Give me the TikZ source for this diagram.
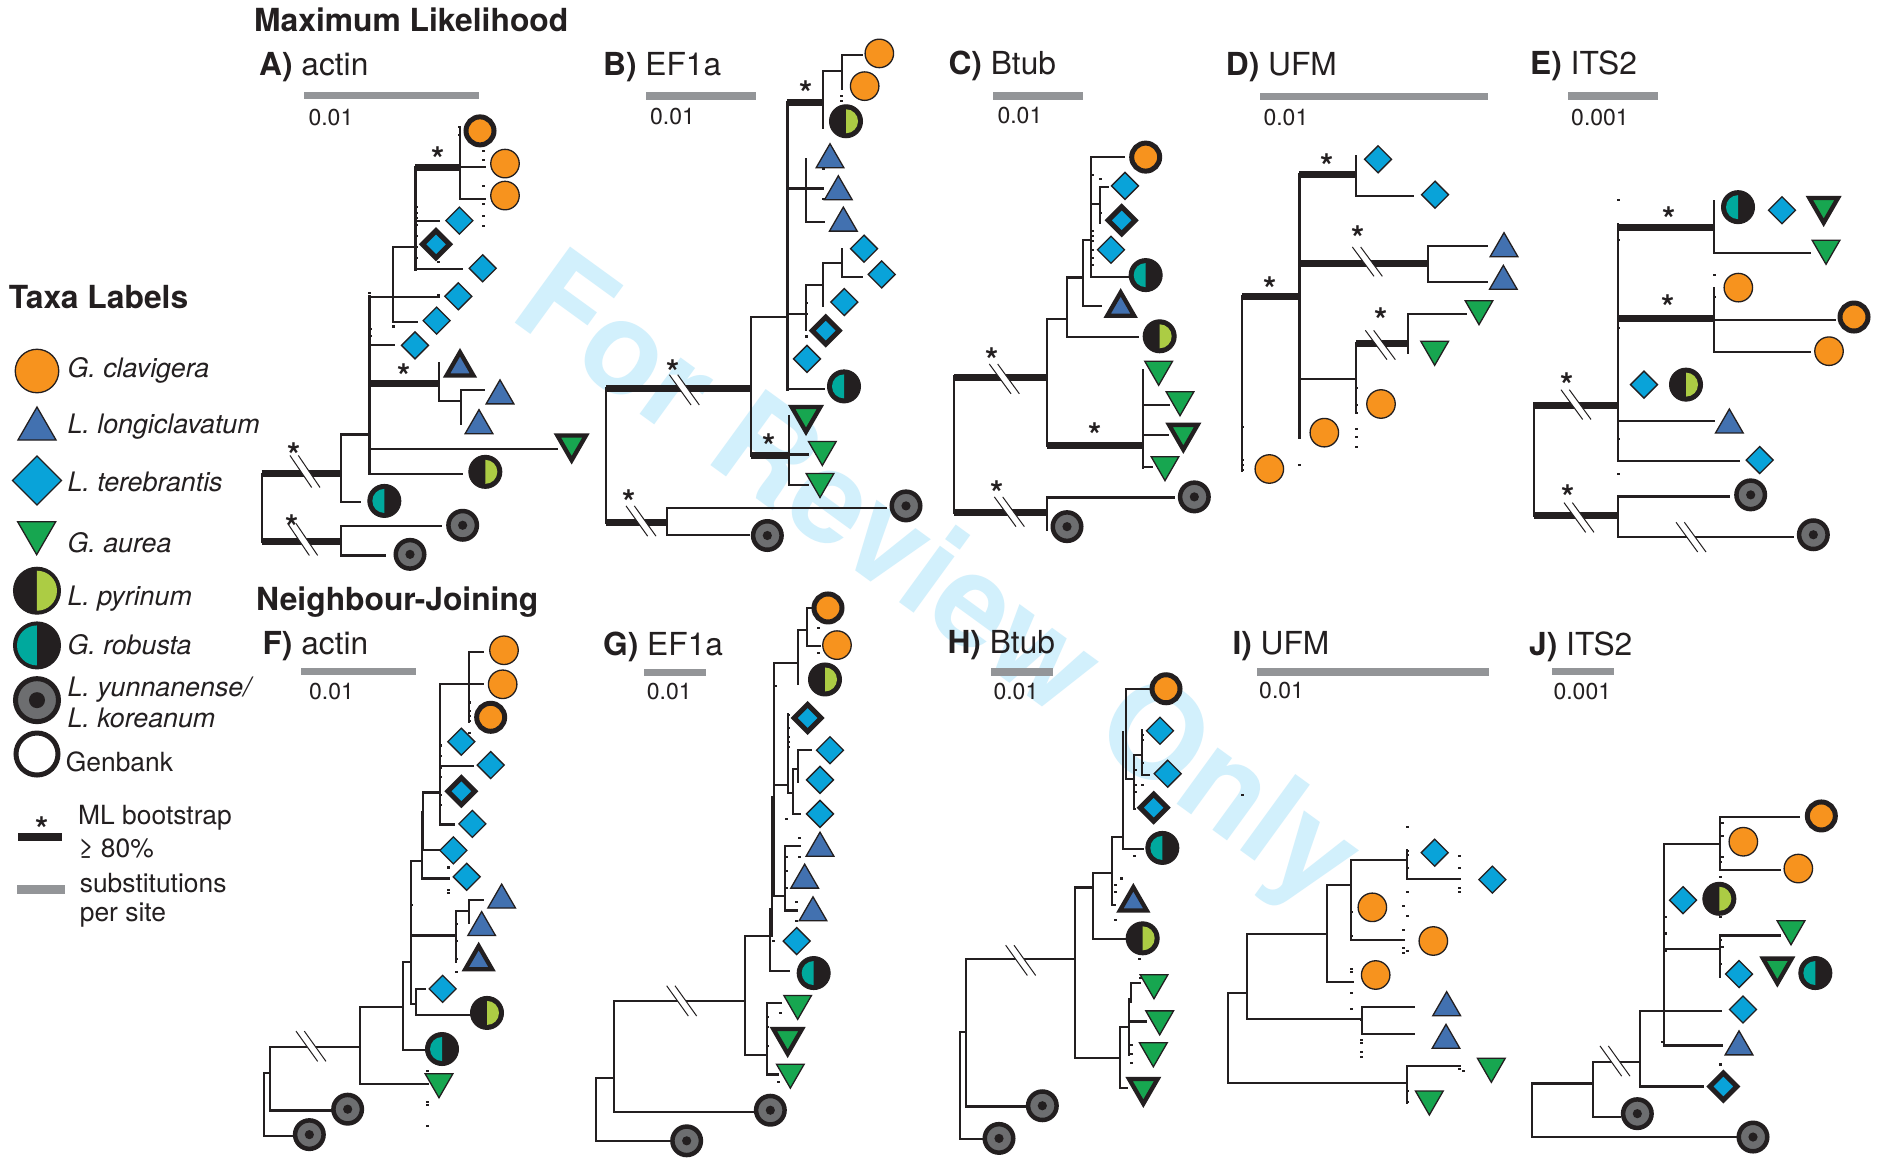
\documentclass[tikz,border=0pt]{standalone}
\usepackage{fontspec}
\setmainfont{TeX Gyre Heros}
\usetikzlibrary{shapes.geometric}
\definecolor{ink}{HTML}{231F20}
\definecolor{cor}{HTML}{F7931E}
\definecolor{cbl}{HTML}{4271B0}
\definecolor{ccy}{HTML}{09A3D9}
\definecolor{cgr}{HTML}{17A650}
\definecolor{cli}{HTML}{ACCC44}
\definecolor{cte}{HTML}{00A99D}
\definecolor{cgy}{HTML}{6D6E70}
\definecolor{cbar}{HTML}{939598}
\definecolor{cwm}{HTML}{D2F0FC}
\newcount\nodenum
\newcommand{\starmk}[2]{\global\advance\nodenum by 1 \node[starmark] (star\the\nodenum) at (#1,#2) {*};}
\newcommand{\slashmk}[2]{\fill[white] (#1-45,#2-44) -- (#1-20,#2-44) -- (#1+45,#2+44) -- (#1+20,#2+44) -- cycle;
  \draw[slashline] (#1-45,#2-44) -- (#1+20,#2+44) (#1-20,#2-44) -- (#1+45,#2+44);}
\newcommand{\ticks}[1]{\foreach \a/\b in {#1} {\fill[ink] (\a-4.5,\b-3) rectangle (\a+4.5,\b+3);}}
\newcommand{\ptitle}[5]{\node[ttl] (t#1) at (#2,#3) {\textbf{#1)} #4};}
\newcommand{\pscale}[6]{\coordinate (sl#1) at (#2,#4); \coordinate (sr#1) at (#3,#4);
  \draw[sbar] (sl#1) -- (sr#1);
  \node[sval] (sv#1) at (#5,#6) {\ifx#1E0.001\else\ifx#1J0.001\else0.01\fi\fi};}
\tikzset{
  br/.style={draw=ink,line width=2.2pt,line cap=rect},
  brm/.style={draw=ink,line width=3pt,line cap=rect},
  bs/.style={draw=ink,line width=7pt,line cap=butt},
  slashline/.style={draw=ink,line width=1pt},
  sbar/.style={draw=cbar,line width=7.5pt},
  starmark/.style={font=\bfseries\fontsize{34}{34}\selectfont,text=ink,inner sep=0pt,anchor=base,yshift=-20pt},
  ttl/.style={font=\fontsize{31.7}{34}\selectfont,text=ink,inner sep=0pt,anchor=base west,xshift=-1pt,yshift=-1pt},
  head/.style={font=\bfseries\fontsize{31.8}{34}\selectfont,text=ink,inner sep=0pt,anchor=base west},
  sval/.style={font=\fontsize{23}{26}\selectfont,text=ink,inner sep=0pt,anchor=base west},
  leg/.style={font=\fontsize{26.4}{30}\selectfont,text=ink,inner sep=0pt,anchor=base west,xshift=-1pt,yshift=-1pt},
  legi/.style={font=\itshape\fontsize{26.8}{30}\selectfont,text=ink,inner sep=0pt,anchor=base west,xshift=-1pt,yshift=-1pt},
  sy/.style={draw=ink,inner sep=0pt,outer sep=0pt},
  oc/.style={sy,circle,fill=cor,line width=1.3pt,minimum size=28.5pt},
  ocb/.style={sy,circle,fill=cor,line width=5pt,minimum size=28pt},
  dia/.style={sy,diamond,fill=ccy,line width=1.3pt,minimum size=27pt},
  diab/.style={sy,diamond,fill=ccy,line width=5pt,minimum size=27pt},
  utri/.style={sy,regular polygon,regular polygon sides=3,fill=cbl,line width=1.3pt,minimum size=32pt,anchor=side 2},
  utrib/.style={sy,regular polygon,regular polygon sides=3,fill=cbl,line width=4.3pt,minimum size=31pt,anchor=side 2},
  dtri/.style={sy,regular polygon,regular polygon sides=3,shape border rotate=180,fill=cgr,line width=1.3pt,minimum size=32pt,anchor=side 2},
  dtrib/.style={sy,regular polygon,regular polygon sides=3,shape border rotate=180,fill=cgr,line width=4.3pt,minimum size=33pt,anchor=side 2},
  pyr/.style={sy,circle,fill=ink,line width=1pt,minimum size=33pt,
    path picture={\fill[cli] (path picture bounding box.center) ++(0pt,#1) arc[start angle=90,end angle=-90,radius=#1] -- cycle;}},
  pyr/.default=12pt,
  rob/.style={sy,circle,fill=ink,line width=1pt,minimum size=33pt,
    path picture={\fill[cte] (path picture bounding box.center) ++(0pt,#1) arc[start angle=90,end angle=270,radius=#1] -- cycle;}},
  rob/.default=12pt,
  yun/.style={sy,circle,fill=cgy,line width=4.5pt,minimum size=28.5pt,
    path picture={\fill[ink] (path picture bounding box.center) circle[radius=#1];}},
  yun/.default=4.6pt,
  panel/.style n args={3}{shift={(#1pt,-#2pt)},x=0.33333pt,y=-#3pt},
}
\begin{document}
\begin{tikzpicture}
\path[use as bounding box,fill=white] (0pt,0pt) rectangle (1881pt,-1159pt);
\node[text=cwm,font=\bfseries\fontsize{129}{140}\selectfont,rotate=-36,inner sep=0pt] (wm) at (934pt,-586pt) {For Review Only};
\node[head] (hml) at (254pt,-31pt) {Maximum Likelihood};
\node[head,font=\bfseries\fontsize{31.8}{34}\selectfont] (hnj) at (256pt,-610pt) {Neighbour-Joining};

% ---------- legend
\begin{scope}[panel={0}{270}{0.42088}]
\node[head,font=\bfseries\fontsize{31.8}{34}\selectfont] (hta) at (26,92) {Taxa Labels};
\node[oc,minimum size=43.5pt] (l1) at (111,240) {};
\node[utri,minimum size=44pt] (l2) at (111,404) {};
\node[dia,minimum size=49pt] (l3) at (111,500) {};
\node[dtri,minimum size=44pt] (l4) at (110,598) {};
\node[pyr=20pt,minimum size=47pt] (l5) at (111,762) {};
\node[rob=20pt,minimum size=47pt] (l6) at (111,892) {};
\node[yun=8pt,minimum size=43pt,line width=5pt] (l7) at (111,1022) {};
\node[sy,circle,fill=white,line width=5pt,minimum size=42pt] (l8) at (111,1150) {};
\node[legi] (lt1) at (205,252) {G. clavigera};
\node[legi] (lt2) at (205,386) {L. longiclavatum};
\node[legi] (lt3) at (205,523) {L. terebrantis};
\node[legi] (lt4) at (205,668) {G. aurea};
\node[legi] (lt5) at (205,795) {L. pyrinum};
\node[legi] (lt6) at (205,912) {G. robusta};
\node[legi] (lt7) at (205,1012) {L. yunnanense/};
\node[legi] (lt8) at (205,1085) {L. koreanum};
\node[leg] (lt9) at (200,1190) {Genbank};
\starmk{125}{1310}
\coordinate (lba) at (55,1347); \coordinate (lbb) at (187,1347);
\draw[draw=ink,line width=8pt] (lba) -- (lbb);
\coordinate (lca) at (52,1472); \coordinate (lcb) at (195,1472);
\draw[draw=cbar,line width=9pt] (lca) -- (lcb);
\node[leg] (lt10) at (237,1315) {ML bootstrap};
\node[leg] (lt11) at (237,1393) {≥ 80\%};
\node[leg] (lt12) at (242,1477) {substitutions};
\node[leg] (lt13) at (242,1545) {per site};
\end{scope}

% ---------- A
\begin{scope}[panel={240}{0}{0.36351}]
\ptitle{A}{60}{205}{actin}{}
\pscale{A}{192}{718}{263}{205}{345}
\draw[br] (65,1303)--(65,1490) (303,1195)--(303,1382) (303,1195)--(388,1195) (303,1382)--(360,1382)
 (303,1448)--(303,1530) (303,1448)--(603,1448) (303,1528)--(435,1528)
 (388,818)--(597,818) (388,950)--(462,950) (388,1235)--(950,1235) (388,1303)--(667,1303)
 (458,680)--(458,885) (458,680)--(525,680) (458,885)--(530,885)
 (525,608)--(596,608) (525,740)--(667,740)
 (660,350)--(660,548) (660,460)--(735,460) (660,548)--(735,548)
 (597,1000)--(597,1103) (597,1103)--(663,1103) (663,1073)--(663,1165) (663,1073)--(733,1073);
\draw[brm] (388,815)--(388,1303) (525,460)--(525,740);
\draw[bs] (65,1303)--(303,1303) (65,1490)--(303,1490) (525,460)--(660,460) (388,1055)--(597,1055);
\ticks{659/350,659/372,731/415,731/440,731/511,731/562,731/595,731/622,528/570,528/585,528/600,528/620,528/650,528/680,528/710,594/720,389/805,594/812,460/898,392/905,392/925}
\slashmk{195}{1297}\slashmk{188}{1484}
\starmk{593}{418}\starmk{492}{1015}\starmk{162}{1230}\starmk{155}{1428}
\node[ocb] (a1) at (720,360) {}; \node[oc] (a2) at (795,450) {}; \node[oc] (a3) at (795,538) {};
\node[dia] (a4) at (658,607) {}; \node[diab] (a5) at (588,672) {}; \node[dia] (a6) at (728,738) {};
\node[dia] (a7) at (655,815) {}; \node[dia] (a8) at (590,882) {}; \node[dia] (a9) at (525,950) {};
\node[utrib] (a10) at (660,1033) {}; \node[utri] (a11) at (780,1111) {}; \node[utri] (a12) at (717,1193) {};
\node[dtrib] (a13) at (995,1198) {}; \node[pyr] (a14) at (736,1298) {}; \node[rob] (a15) at (433,1378) {};
\node[yun] (a16) at (668,1445) {}; \node[yun] (a17) at (510,1525) {};
\end{scope}

% ---------- B
\begin{scope}[panel={590}{30}{0.34435}]
\ptitle{B}{42}{128}{EF1a}{}
\pscale{B}{168}{497}{192}{180}{275}
\draw[br] (48,1040)--(48,1430) (232,1387)--(232,1467) (232,1387)--(888,1387) (232,1467)--(478,1467)
 (483,833)--(483,1237) (483,833)--(592,833) (597,1122)--(597,1322) (597,1233)--(655,1233) (597,1322)--(655,1322)
 (592,460)--(700,460) (592,825)--(650,825) (592,1043)--(703,1043)
 (698,120)--(698,283) (698,120)--(755,120) (755,72)--(755,170) (755,72)--(815,72)
 (648,375)--(648,558) (648,558)--(703,558)
 (647,740)--(647,870) (647,740)--(698,740) (698,677)--(698,800) (698,677)--(755,677) (755,637)--(755,717) (755,717)--(815,717);
\draw[brm] (592,210)--(592,1043);
\draw[bs] (48,1040)--(483,1040) (48,1430)--(232,1430) (483,1237)--(597,1237) (592,210)--(697,210);
\ticks{755/192,755/205,700/405,700/490,648/890,592/490,592/565,592/660,650/793}
\slashmk{283}{1045}\slashmk{153}{1426}
\starmk{647}{162}\starmk{250}{970}\starmk{538}{1185}\starmk{117}{1348}
\node[oc] (b1) at (868,68) {}; \node[oc] (b2) at (824,163) {}; \node[pyr] (b3) at (768,265) {};
\node[utri] (b4) at (720,400) {}; \node[utri] (b5) at (745,493) {}; \node[utri] (b6) at (760,584) {};
\node[dia] (b7) at (822,635) {}; \node[dia] (b8) at (875,710) {}; \node[dia] (b9) at (763,790) {};
\node[diab] (b10) at (707,873) {}; \node[dia] (b11) at (651,955) {}; \node[rob] (b12) at (762,1035) {};
\node[dtrib] (b13) at (648,1095) {}; \node[dtri] (b14) at (697,1195) {}; \node[dtri] (b15) at (690,1288) {};
\node[yun] (b16) at (948,1382) {}; \node[yun] (b17) at (532,1468) {};
\end{scope}

% ---------- C
\begin{scope}[panel={930}{30}{0.33807}]
\ptitle{C}{58}{130}{Btub}{}
\pscale{C}{190}{458}{195}{202}{277}
\draw[br] (72,1025)--(72,1428) (350,855)--(350,1230) (350,855)--(412,855)
 (412,732)--(412,908) (412,732)--(460,732) (412,908)--(625,908)
 (460,620)--(460,817) (460,620)--(483,620) (460,817)--(512,817)
 (483,376)--(483,730) (483,376)--(583,376) (483,730)--(595,730) (483,515)--(510,515) (510,465)--(510,572) (510,465)--(535,465)
 (640,1007)--(640,1295) (640,1110)--(717,1110) (640,1197)--(715,1197) (640,1293)--(665,1293)
 (350,1382)--(350,1480) (350,1383)--(733,1383);
\draw[bs] (72,1027)--(350,1027) (72,1428)--(350,1428) (350,1230)--(640,1230);
\ticks{510/441,486/430,486/595,486/610,486/625,486/650,486/675,486/695,510/540}
\slashmk{223}{1032}\slashmk{238}{1425}
\starmk{186}{953}\starmk{495}{1175}\starmk{200}{1347}
\node[ocb] (c1) at (647,376) {}; \node[dia] (c2) at (585,461) {}; \node[diab] (c3) at (575,563) {};
\node[dia] (c4) at (543,650) {}; \node[rob] (c5) at (647,725) {}; \node[utrib] (c6) at (572,845) {};
\node[pyr] (c7) at (689,906) {}; \node[dtri] (c8) at (686,980) {}; \node[dtri] (c9) at (750,1070) {};
\node[dtrib] (c10) at (760,1168) {}; \node[dtri] (c11) at (705,1262) {};
\node[yun] (c12) at (793,1381) {}; \node[yun] (c13) at (411,1469) {};
\end{scope}

% ---------- D
\begin{scope}[panel={1220}{30}{0.33333}]
\ptitle{D}{20}{132}{UFM}{}
\pscale{D}{121}{805}{199}{130}{285}
\draw[br] (67,798)--(67,1322) (408,378)--(408,498) (408,498)--(580,498)
 (623,647)--(623,755) (623,647)--(800,647) (623,755)--(800,755)
 (238,1048)--(408,1048) (408,938)--(408,1150) (563,853)--(563,970) (563,853)--(738,853);
\draw[brm] (238,432)--(238,1222);
\draw[bs] (67,798)--(238,798) (238,432)--(408,432) (238,700)--(623,700) (408,940)--(563,940);
\ticks{408/1075,408/1125,408/1150,408/1197,408/1222,408/1252,238/1305,68/1190,68/1290,68/1305,68/1320}
\slashmk{442}{695}\slashmk{481}{945}
\starmk{321}{385}\starmk{414}{602}\starmk{149}{755}\starmk{484}{848}
\node[dia] (d1) at (474,388) {}; \node[dia] (d2) at (645,494) {};
\node[utri] (d3) at (852,680) {}; \node[utri] (d4) at (850,778) {};
\node[dtri] (d5) at (777,812) {}; \node[dtri] (d6) at (644,934) {};
\node[oc] (d7) at (483,1122) {}; \node[oc] (d8) at (313,1208) {}; \node[oc] (d9) at (148,1317) {};
\end{scope}

% ---------- E
\begin{scope}[panel={1510}{30}{0.33807}]
\ptitle{E}{63}{130}{ITS2}{}
\pscale{E}{175}{445}{195}{183}{283}
\draw[br] (71,1105)--(71,1437) (325,575)--(325,1275) (325,1157)--(612,1157) (325,1274)--(688,1274)
 (612,505)--(612,660) (612,660)--(900,660) (612,763)--(612,953) (612,857)--(975,857) (612,953)--(900,953)
 (325,1380)--(325,1500) (325,1380)--(657,1380) (325,1500)--(848,1500);
\draw[bs] (71,1112)--(325,1112) (71,1437)--(325,1437) (325,585)--(612,585) (325,853)--(612,853);
\ticks{326/503,326/620,326/882,326/1210,326/1313,614/726,614/790}
\slashmk{198}{1108}\slashmk{207}{1442}\slashmk{543}{1500}
\starmk{477}{538}\starmk{475}{798}\starmk{171}{1027}\starmk{173}{1360}
\node[rob] (e1) at (684,524) {}; \node[dia] (e2) at (816,533) {}; \node[dtrib] (e3) at (941,497) {};
\node[dtri] (e4) at (948,622) {}; \node[oc] (e5) at (685,762) {}; \node[ocb] (e6) at (1032,849) {};
\node[oc] (e7) at (957,950) {}; \node[dia] (e8) at (402,1049) {}; \node[pyr] (e9) at (528,1049) {};
\node[utri] (e10) at (658,1192) {}; \node[dia] (e11) at (749,1272) {};
\node[yun] (e12) at (722,1375) {}; \node[yun] (e13) at (910,1493) {};
\end{scope}

% ---------- F
\begin{scope}[panel={250}{620}{0.34376}]
\ptitle{F}{40}{97}{actin}{}
\pscale{F}{153}{498}{150}{177}{230}
\draw[br] (43,1318)--(43,1500) (43,1318)--(60,1318) (43,1500)--(130,1500) (60,1243)--(60,1427) (60,1243)--(330,1243) (60,1427)--(245,1427)
 (330,1125)--(330,1350) (330,1125)--(458,1125) (330,1350)--(535,1350)
 (458,995)--(458,1250) (458,995)--(482,995) (458,1250)--(527,1250)
 (482,702)--(482,1118) (482,702)--(515,702) (482,918)--(615,918) (482,1118)--(497,1118)
 (497,1073)--(497,1150) (497,1073)--(525,1073) (497,1150)--(662,1150)
 (515,560)--(515,752) (515,752)--(597,752) (515,670)--(570,670) (520,502)--(520,670) (520,502)--(570,502)
 (570,187)--(570,595) (570,187)--(700,187) (570,425)--(668,425) (570,595)--(612,595)
 (658,92)--(658,295) (658,92)--(700,92)
 (617,847)--(617,995) (617,847)--(658,847) (658,815)--(658,880) (658,815)--(700,815);
\ticks{658/240,658/265,658/280,658/293,658/330,571/365,571/395,571/430,571/458,571/510,571/538,595/720,595/785,595/793,484/830,619/885,619/935,619/985,619/1023,531/1312,531/1403,531/1412,531/1473}
\slashmk{183}{1240}
\node[oc] (f1) at (762,88) {}; \node[oc] (f2) at (758,187) {}; \node[ocb] (f3) at (722,283) {};
\node[dia] (f4) at (634,354) {}; \node[dia] (f5) at (722,422) {}; \node[diab] (f6) at (634,498) {};
\node[dia] (f7) at (667,593) {}; \node[dia] (f8) at (610,670) {}; \node[dia] (f9) at (650,747) {};
\node[utri] (f10) at (755,838) {}; \node[utri] (f11) at (695,918) {}; \node[utrib] (f12) at (686,1016) {};
\node[dia] (f13) at (578,1073) {}; \node[pyr] (f14) at (711,1143) {}; \node[rob] (f15) at (576,1248) {};
\node[dtri] (f16) at (567,1320) {}; \node[yun] (f17) at (293,1423) {}; \node[yun] (f18) at (178,1497) {};
\end{scope}

% ---------- G
\begin{scope}[panel={590}{620}{0.34376}]
\ptitle{G}{42}{100}{EF1a}{}
\pscale{G}{162}{347}{153}{170}{232}
\draw[br] (17,1332)--(17,1515) (17,1332)--(73,1332) (17,1515)--(240,1515) (73,1108)--(73,1430) (73,1108)--(466,1108) (73,1430)--(492,1430)
 (466,920)--(466,1265) (466,920)--(540,920) (466,1265)--(530,1265)
 (530,1113)--(530,1322) (530,1113)--(573,1113) (530,1322)--(565,1322)
 (540,842)--(540,1022) (540,1022)--(597,1022) (547,515)--(547,920) (547,803)--(585,803)
 (585,658)--(585,845) (585,658)--(630,658) (585,845)--(620,845)
 (553,125)--(553,803) (553,125)--(625,125) (553,480)--(595,480) (625,30)--(625,185) (625,30)--(650,30)
 (650,-35)--(650,75) (650,75)--(690,75) (650,-35)--(680,-35)
 (595,275)--(595,503) (595,503)--(610,503) (610,433)--(610,565) (610,565)--(630,565) (610,433)--(625,433) (625,379)--(625,470) (625,379)--(662,379);
\ticks{684/22,684/95,556/192,596/275,596/315,596/340,596/355,596/370,588/580,627/635,627/690,588/690,588/730,588/780,620/820,620/875,550/933,572/1142,531/1155,531/1185,531/1240,564/1345}
\slashmk{275}{1108}
\node[ocb] (g1) at (714,-35) {}; \node[oc] (g2) at (741,73) {}; \node[pyr] (g3) at (705,173) {};
\node[diab] (g4) at (653,285) {}; \node[dia] (g5) at (720,379) {}; \node[dia] (g6) at (690,465) {}; \node[dia] (g7) at (690,564) {};
\node[utri] (g8) at (690,687) {}; \node[utri] (g9) at (644,780) {}; \node[utri] (g10) at (669,875) {};
\node[dia] (g11) at (620,934) {}; \node[rob] (g12) at (671,1027) {};
\node[dtri] (g13) at (623,1092) {}; \node[dtrib] (g14) at (593,1190) {}; \node[dtri] (g15) at (601,1292) {};
\node[yun] (g16) at (541,1426) {}; \node[yun] (g17) at (290,1515) {};
\end{scope}

% ---------- H
\begin{scope}[panel={950}{620}{0.34376}]
\ptitle{H}{-5}{95}{Btub}{}
\pscale{H}{123}{308}{151}{130}{230}
\draw[br] (30,1198)--(30,1510) (30,1198)--(47,1198) (30,1510)--(95,1510) (47,987)--(47,1415) (47,987)--(376,987) (47,1415)--(227,1415)
 (376,778)--(376,1273) (376,778)--(430,778) (376,1273)--(510,1273)
 (430,737)--(430,927) (430,737)--(487,737) (430,927)--(528,927)
 (487,632)--(487,828) (487,632)--(520,632) (520,325)--(520,665) (520,665)--(580,665)
 (527,200)--(527,462) (527,200)--(598,200) (527,462)--(552,462)
 (552,393)--(552,550) (552,393)--(577,393) (577,320)--(577,450) (577,450)--(597,450)
 (510,1183)--(510,1362) (510,1183)--(537,1183) (510,1362)--(530,1362) (537,1103)--(537,1265) (537,1168)--(587,1168) (542,1055)--(570,1055) (542,1055)--(542,1110);
\ticks{577/335,577/350,577/415,555/435,555/480,577/480,555/500,552/550,553/687,513/752,495/770,495/790,492/828,497/872,569/987,545/1235,545/1262,545/1288,570/1042}
\slashmk{212}{990}
\node[ocb] (h1) at (648,200) {}; \node[dia] (h2) at (630,322) {}; \node[dia] (h3) at (653,447) {}; \node[diab] (h4) at (611,546) {};
\node[rob] (h5) at (637,663) {}; \node[utrib] (h6) at (550,845) {}; \node[pyr] (h7) at (578,926) {};
\node[dtri] (h8) at (612,1032) {}; \node[dtri] (h9) at (629,1137) {}; \node[dtri] (h10) at (610,1230) {}; \node[dtrib] (h11) at (580,1335) {};
\node[yun] (h12) at (277,1413) {}; \node[yun] (h13) at (147,1508) {};
\end{scope}

% ---------- I
\begin{scope}[panel={1210}{620}{0.33333}]
\ptitle{I}{70}{100}{UFM}{}
\pscale{I}{141}{838}{156}{147}{235}
\draw[br] (53,1120)--(53,1388) (53,1120)--(110,1120) (53,1388)--(592,1388) (110,943)--(110,1198) (110,943)--(350,943) (110,1198)--(455,1198)
 (350,795)--(350,1087) (350,795)--(423,795) (350,1087)--(428,1087)
 (423,720)--(423,960) (423,720)--(590,720) (423,960)--(583,960)
 (590,690)--(590,776) (590,776)--(750,776)
 (455,1160)--(455,1243) (455,1160)--(613,1160) (455,1243)--(613,1243)
 (592,1338)--(592,1448) (592,1338)--(750,1338);
\ticks{98/525,592/620,592/692,592/705,592/743,749/707,749/745,749/805,749/817,592/816,581/857,592/888,581/929,581/985,592/992,581/1000,425/875,425/947,425/1048,425/1056,425/1120,425/1168,455/1200,455/1260,455/1268,455/1297,455/1310,748/1348,760/1352,592/1412,592/1445}
\node[dia] (i1) at (674,698) {}; \node[dia] (i2) at (847,779) {};
\node[oc] (i3) at (487,862) {}; \node[oc] (i4) at (670,963) {}; \node[oc] (i5) at (497,1065) {};
\node[utri] (i6) at (710,1187) {}; \node[utri] (i7) at (708,1285) {};
\node[dtri] (i8) at (844,1315) {}; \node[dtri] (i9) at (658,1413) {};
\end{scope}

% ---------- J
\begin{scope}[panel={1510}{620}{0.34376}]
\ptitle{J}{60}{100}{ITS2}{}
\pscale{J}{127}{311}{150}{130}{230}
\draw[br] (67,1348)--(67,1505) (67,1348)--(250,1348) (67,1505)--(678,1505) (250,1285)--(250,1445) (250,1285)--(390,1285) (250,1445)--(330,1445)
 (390,1137)--(390,1357) (390,1137)--(633,1137) (390,1357)--(578,1357)
 (463,652)--(463,1238) (463,652)--(630,652) (463,958)--(630,958) (463,1238)--(635,1238)
 (630,572)--(630,728) (630,572)--(867,572) (630,728)--(810,728)
 (630,918)--(630,1038) (630,918)--(810,918);
\ticks{638/590,636/628,636/690,632/705,632/747,632/865,632/930,638/950,632/1000,465/865,465/912,465/962,457/1227,632/1293}
\slashmk{315}{1283}
\node[ocb] (j1) at (934,570) {}; \node[oc] (j2) at (700,645) {}; \node[oc] (j3) at (865,723) {};
\node[dia] (j4) at (519,815) {}; \node[pyr] (j5) at (628,811) {}; \node[dtri] (j6) at (843,875) {};
\node[dia] (j7) at (687,1030) {}; \node[dtrib] (j8) at (802,985) {}; \node[rob] (j9) at (916,1027) {};
\node[dia] (j10) at (699,1133) {}; \node[utri] (j11) at (687,1265) {}; \node[diab] (j12) at (640,1357) {};
\node[yun] (j13) at (382,1436) {}; \node[yun] (j14) at (729,1504) {};
\end{scope}
\end{tikzpicture}
\end{document}
